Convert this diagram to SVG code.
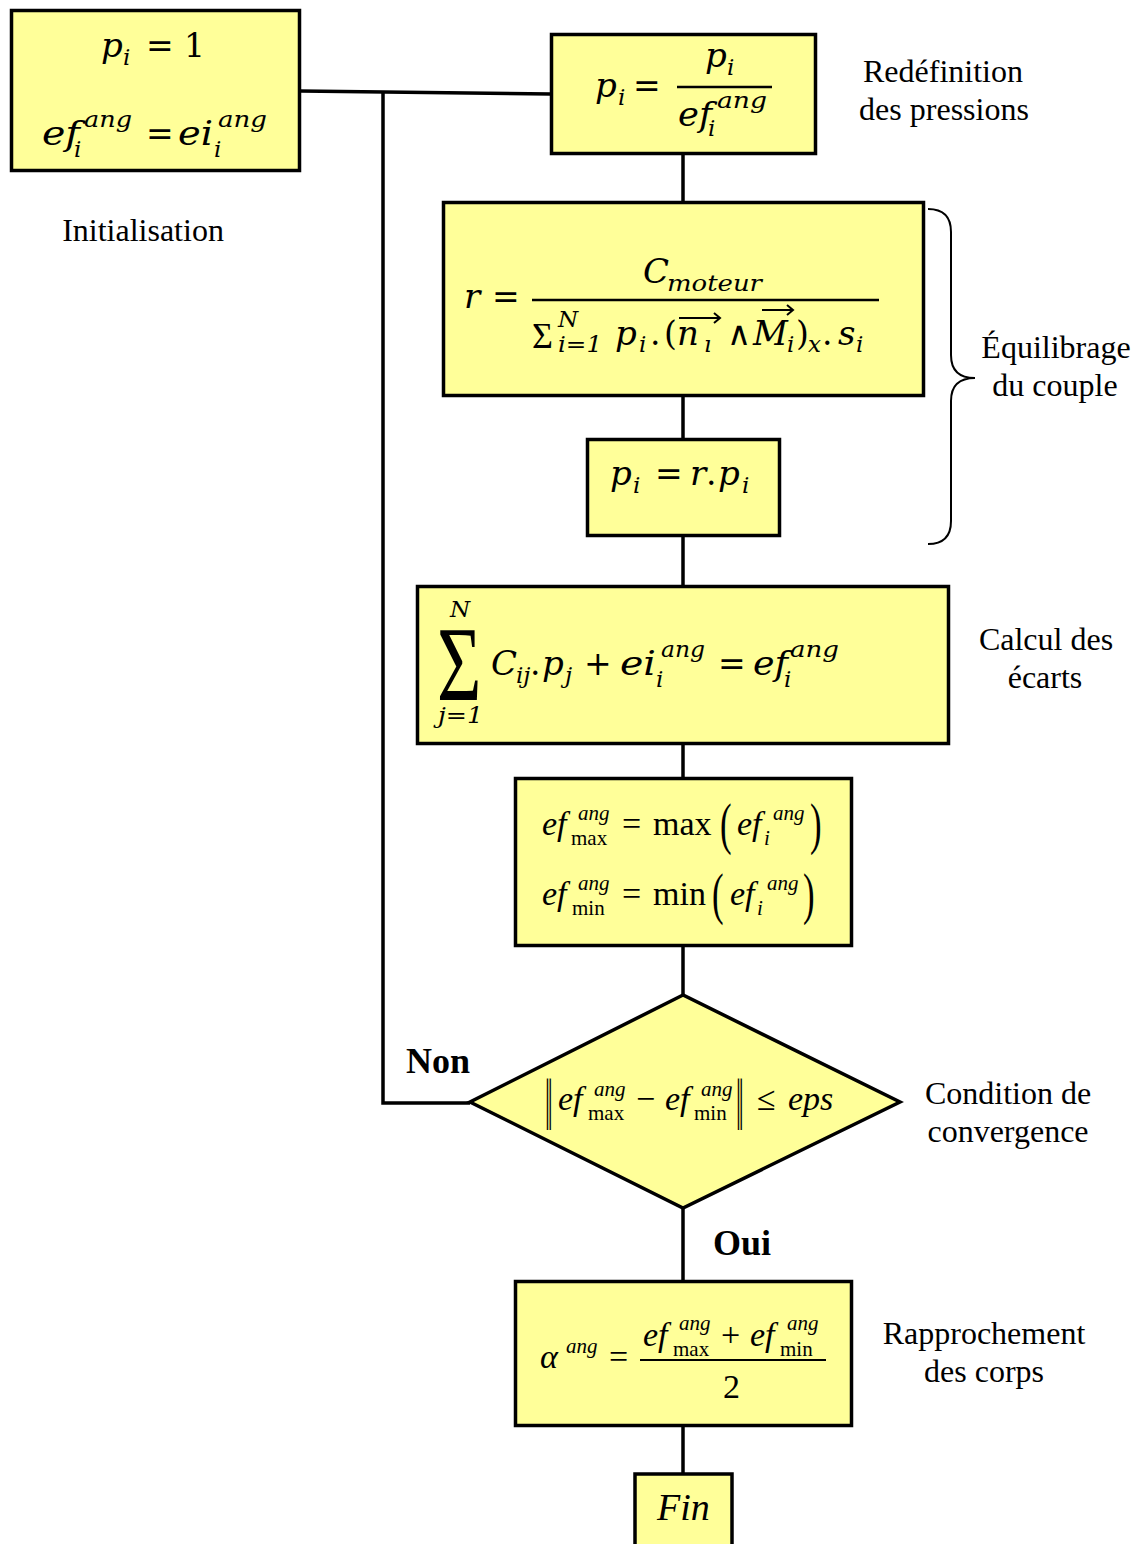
<svg xmlns="http://www.w3.org/2000/svg" width="1136" height="1544" viewBox="0 0 1136 1544">
<style>
.box{fill:#FFFF99;stroke:#000;stroke-width:3.5}
.conn{fill:none;stroke:#000;stroke-width:3.5}
.frac{stroke:#000;stroke-width:2.5}
.lbl{font-family:"Liberation Serif",serif;font-size:32px;text-anchor:middle;fill:#000}
.bold{font-family:"Liberation Serif",serif;font-size:36px;font-weight:bold;fill:#000}
.cm{font-family:"DejaVu Serif",serif;font-style:italic;font-size:34px}
.cu{font-family:"DejaVu Serif",serif;font-size:33px}
.cs{font-family:"DejaVu Serif",serif;font-style:italic;font-size:23px}
.tm{font-family:"Liberation Serif",serif;font-style:italic;font-size:34px}
.tu{font-family:"Liberation Serif",serif;font-size:34px}
.ts{font-family:"Liberation Serif",serif;font-style:italic;font-size:21px}
.tsu{font-family:"Liberation Serif",serif;font-size:21px}
.par{font-family:"Liberation Serif",serif;font-size:58px}
.nb{font-family:"Liberation Serif","DejaVu Serif",serif;font-size:34px}
</style>
<rect width="1136" height="1544" fill="#fff"/>
<g id="connectors">
<path class="conn" d="M300,91 L551,94"/>
<path class="conn" d="M383,92 V1103 H470"/>
<path class="conn" d="M683,154 V202"/>
<path class="conn" d="M683,396 V439"/>
<path class="conn" d="M683,536 V586"/>
<path class="conn" d="M683,744 V778"/>
<path class="conn" d="M683,946 V995"/>
<path class="conn" d="M683,1208 V1281"/>
<path class="conn" d="M683,1426 V1473"/>
</g>
<g id="init">
<rect class="box" x="11.5" y="10.5" width="288" height="160"/>
<text class="cm" x="101" y="57">p</text><text class="cs" x="123" y="65">i</text>
<text class="cu" x="146" y="57">=</text><text class="cu" x="184" y="57">1</text>
<text class="cm" x="42" y="145" textLength="38" lengthAdjust="spacingAndGlyphs">ef</text><text class="cs" x="84" y="127" textLength="48" lengthAdjust="spacingAndGlyphs">ang</text><text class="cs" x="74" y="157">i</text>
<text class="cu" x="146" y="145">=</text>
<text class="cm" x="178" y="145" textLength="35" lengthAdjust="spacingAndGlyphs">ei</text><text class="cs" x="218" y="127" textLength="49" lengthAdjust="spacingAndGlyphs">ang</text><text class="cs" x="214" y="157">i</text>
</g>
<text class="lbl" x="143" y="241">Initialisation</text>
<g id="redef">
<rect class="box" x="551.5" y="34.5" width="264" height="119"/>
<text class="cm" x="595" y="97">p</text><text class="cs" x="618" y="105">i</text>
<text class="cu" x="633" y="97">=</text>
<line class="frac" x1="677" y1="87" x2="772" y2="87"/>
<text class="cm" x="705" y="67">p</text><text class="cs" x="727" y="75">i</text>
<text class="cm" x="678" y="126" textLength="34" lengthAdjust="spacingAndGlyphs">ef</text><text class="cs" x="717" y="108" textLength="50" lengthAdjust="spacingAndGlyphs">ang</text><text class="cs" x="708" y="136">i</text>
</g>
<text class="lbl" x="943" y="82">Redéfinition</text>
<text class="lbl" x="944" y="120">des pressions</text>
<g id="ratio">
<rect class="box" x="443.5" y="202.5" width="480" height="193"/>
<text class="cm" x="464" y="308">r</text>
<text class="cu" x="492" y="308">=</text>
<line class="frac" x1="532" y1="300" x2="879" y2="300"/>
<text class="cm" x="643" y="283">C</text><text class="cs" x="667" y="291" textLength="95" lengthAdjust="spacingAndGlyphs">moteur</text>
<text class="tu" x="532" y="348" style="font-size:36px">Σ</text>
<text class="cs" x="558" y="327">N</text><text class="cs" x="558" y="352" textLength="44" lengthAdjust="spacingAndGlyphs">i=1</text>
<text class="cm" x="615" y="345">p</text><text class="cs" x="639" y="352">i</text>
<text class="cu" x="650" y="345">.</text>
<text class="cu" x="664" y="345">(</text>
<text class="cm" x="677" y="345">n</text><text class="cs" x="704" y="352">ı</text>
<path d="M679,318 H720 M714,313 L720,318 L714,323" fill="none" stroke="#000" stroke-width="2"/>
<text class="cu" x="727" y="345">∧</text>
<text class="cm" x="753" y="345">M</text><text class="cs" x="787" y="352">i</text>
<path d="M762,310 H793 M787,305 L793,310 L787,315" fill="none" stroke="#000" stroke-width="2"/>
<text class="cu" x="796" y="345">)</text>
<text class="cs" x="808" y="352">x</text>
<text class="cu" x="822" y="345">.</text>
<text class="cm" x="838" y="345">s</text><text class="cs" x="856" y="352">i</text>
</g>
<g id="scale">
<rect class="box" x="587.5" y="439.5" width="192" height="96"/>
<text class="cm" x="610" y="485">p</text><text class="cs" x="633" y="493">i</text>
<text class="cu" x="655" y="485">=</text>
<text class="cm" x="690" y="485">r</text><text class="cu" x="706" y="485">.</text>
<text class="cm" x="718" y="485">p</text><text class="cs" x="742" y="493">i</text>
</g>
<path d="M928,209 Q951,209 951,232 L951,355 Q951,378 975,378 Q951,378 951,401 L951,521 Q951,544 928,544" fill="none" stroke="#000" stroke-width="2"/>
<text class="lbl" x="1056" y="358">Équilibrage</text>
<text class="lbl" x="1055" y="396">du couple</text>
<g id="ecarts">
<rect class="box" x="417.5" y="586.5" width="531" height="157"/>
<text class="tu" transform="translate(437,700) scale(0.72,1)" style="font-size:106px">Σ</text>
<text class="cs" x="450" y="617">N</text>
<text class="cs" x="438" y="723" textLength="45" lengthAdjust="spacingAndGlyphs">j=1</text>
<text class="cm" x="491" y="675">C</text><text class="cs" x="516" y="683">ij</text>
<text class="cu" x="530" y="675">.</text>
<text class="cm" x="542" y="675">p</text><text class="cs" x="565" y="683">j</text>
<text class="cu" x="584" y="675">+</text>
<text class="cm" x="620" y="675" textLength="36" lengthAdjust="spacingAndGlyphs">ei</text><text class="cs" x="661" y="657" textLength="44" lengthAdjust="spacingAndGlyphs">ang</text><text class="cs" x="656" y="687">i</text>
<text class="cu" x="718" y="675">=</text>
<text class="cm" x="753" y="675" textLength="35" lengthAdjust="spacingAndGlyphs">ef</text><text class="cs" x="790" y="657" textLength="49" lengthAdjust="spacingAndGlyphs">ang</text><text class="cs" x="784" y="687">i</text>
</g>
<text class="lbl" x="1046" y="650">Calcul des</text>
<text class="lbl" x="1045" y="688">écarts</text>
<g id="maxmin">
<rect class="box" x="515.5" y="778.5" width="336" height="167"/>
<text class="tm" x="542" y="835">ef</text><text class="ts" x="578" y="820">ang</text><text class="tsu" x="571" y="845">max</text>
<text class="tu" x="622" y="835">=</text><text class="tu" x="653" y="835">max</text>
<text class="par" transform="translate(720,843) scale(0.6,1)">(</text>
<text class="tm" x="737" y="835">ef</text><text class="ts" x="773" y="820">ang</text><text class="ts" x="764" y="845">i</text>
<text class="par" transform="translate(810,843) scale(0.6,1)">)</text>
<text class="tm" x="542" y="905">ef</text><text class="ts" x="578" y="890">ang</text><text class="tsu" x="572" y="915">min</text>
<text class="tu" x="622" y="905">=</text><text class="tu" x="653" y="905">min</text>
<text class="par" transform="translate(712,913) scale(0.6,1)">(</text>
<text class="tm" x="730" y="905">ef</text><text class="ts" x="767" y="890">ang</text><text class="ts" x="757" y="915">i</text>
<text class="par" transform="translate(803,913) scale(0.6,1)">)</text>
</g>
<g id="convergence">
<polygon class="box" points="683,995 470,1102 683,1208 900,1102"/>
<text class="nb" transform="translate(545,1130) scale(0.8,2.2)">‖</text>
<text class="tm" x="558" y="1110">ef</text><text class="ts" x="594" y="1096">ang</text><text class="tsu" x="588" y="1120">max</text>
<text class="tu" x="636" y="1110">−</text>
<text class="tm" x="665" y="1110">ef</text><text class="ts" x="701" y="1096">ang</text><text class="tsu" x="694" y="1120">min</text>
<text class="nb" transform="translate(736,1130) scale(0.8,2.2)">‖</text>
<text class="tu" x="757" y="1110">≤</text>
<text class="tm" x="788" y="1110">eps</text>
</g>
<text class="bold" x="406" y="1073">Non</text>
<text class="bold" x="713" y="1255">Oui</text>
<text class="lbl" x="1008" y="1104">Condition de</text>
<text class="lbl" x="1008" y="1142">convergence</text>
<g id="rapprochement">
<rect class="box" x="515.5" y="1281.5" width="336" height="144"/>
<text class="tm" x="540" y="1368">α</text><text class="ts" x="566" y="1353">ang</text>
<text class="tu" x="609" y="1368">=</text>
<line x1="640" y1="1360" x2="826" y2="1360" stroke="#000" stroke-width="2"/>
<text class="tm" x="643" y="1346">ef</text><text class="ts" x="679" y="1330">ang</text><text class="tsu" x="673" y="1356">max</text>
<text class="tu" x="721" y="1346">+</text>
<text class="tm" x="750" y="1346">ef</text><text class="ts" x="787" y="1330">ang</text><text class="tsu" x="780" y="1356">min</text>
<text class="tu" x="723" y="1398">2</text>
</g>
<text class="lbl" x="984" y="1344">Rapprochement</text>
<text class="lbl" x="984" y="1382">des corps</text>
<g id="fin">
<rect class="box" x="635" y="1474" width="97" height="80" stroke-width="4"/>
<text class="tm" x="657" y="1520" style="font-size:38px">Fin</text>
</g>
</svg>
